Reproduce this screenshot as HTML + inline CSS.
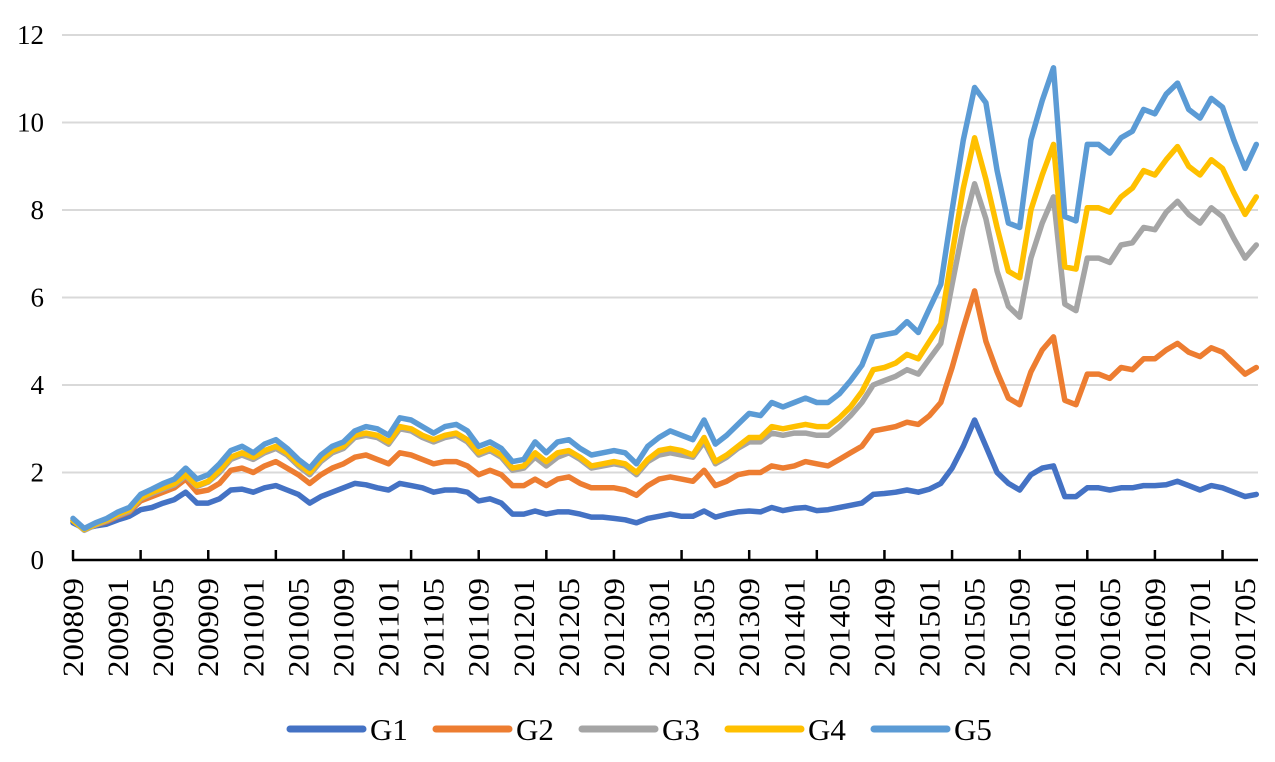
<!DOCTYPE html>
<html><head><meta charset="utf-8">
<style>
html,body{margin:0;padding:0;background:#fff;}
svg{display:block;font-family:"Liberation Serif",serif;}
</style></head>
<body>
<svg id="chart" width="1275" height="762" viewBox="0 0 1275 762" xmlns="http://www.w3.org/2000/svg">
<g id="grid"></g>
<g id="yaxis"></g>
<g id="xaxis"></g>
<g id="series"></g>
<g id="legend"></g>
</svg>
<script>
const yTicks = [0,2,4,6,8,10,12];
const xLabels = ["200809","200901","200905","200909","201001","201005","201009","201101","201105","201109","201201","201205","201209","201301","201305","201309","201401","201405","201409","201501","201505","201509","201601","201605","201609","201701","201705"];
const seriesNames = ["G1","G2","G3","G4","G5"];
const g1 = [0.85,0.72,0.78,0.82,0.92,1.0,1.15,1.2,1.3,1.38,1.55,1.3,1.3,1.4,1.6,1.62,1.55,1.65,1.7,1.6,1.5,1.3,1.45,1.55,1.65,1.75,1.72,1.65,1.6,1.75,1.7,1.65,1.55,1.6,1.6,1.55,1.35,1.4,1.3,1.05,1.05,1.12,1.05,1.1,1.1,1.05,0.98,0.98,0.95,0.92,0.85,0.95,1.0,1.05,1.0,1.0,1.12,0.98,1.05,1.1,1.12,1.1,1.2,1.13,1.18,1.2,1.13,1.15,1.2,1.25,1.3,1.5,1.52,1.55,1.6,1.55,1.62,1.75,2.1,2.6,3.2,2.6,2.0,1.75,1.6,1.95,2.1,2.15,1.45,1.45,1.65,1.65,1.6,1.65,1.65,1.7,1.7,1.72,1.8,1.7,1.6,1.7,1.65,1.55,1.45,1.5];
const g2 = [0.9,0.7,0.8,0.88,1.0,1.1,1.35,1.45,1.55,1.65,1.85,1.55,1.6,1.75,2.05,2.1,2.0,2.15,2.25,2.1,1.95,1.75,1.95,2.1,2.2,2.35,2.4,2.3,2.2,2.45,2.4,2.3,2.2,2.25,2.25,2.15,1.95,2.05,1.95,1.7,1.7,1.85,1.7,1.85,1.9,1.75,1.65,1.65,1.65,1.6,1.48,1.7,1.85,1.9,1.85,1.8,2.05,1.7,1.8,1.95,2.0,2.0,2.15,2.1,2.15,2.25,2.2,2.15,2.3,2.45,2.6,2.95,3.0,3.05,3.15,3.1,3.3,3.6,4.4,5.3,6.15,5.0,4.3,3.7,3.55,4.3,4.8,5.1,3.65,3.55,4.25,4.25,4.15,4.4,4.35,4.6,4.6,4.8,4.95,4.75,4.65,4.85,4.75,4.5,4.25,4.4];
const g3 = [0.9,0.68,0.8,0.9,1.02,1.12,1.4,1.52,1.62,1.72,1.92,1.68,1.78,2.0,2.3,2.4,2.3,2.45,2.55,2.4,2.15,1.95,2.25,2.45,2.55,2.8,2.85,2.8,2.65,3.0,2.95,2.8,2.7,2.8,2.85,2.7,2.4,2.5,2.35,2.05,2.1,2.35,2.15,2.35,2.45,2.3,2.1,2.15,2.2,2.15,1.95,2.25,2.4,2.45,2.4,2.35,2.7,2.2,2.35,2.55,2.7,2.7,2.9,2.85,2.9,2.9,2.85,2.85,3.05,3.3,3.6,4.0,4.1,4.2,4.35,4.25,4.6,4.95,6.3,7.6,8.6,7.8,6.6,5.8,5.55,6.9,7.7,8.3,5.85,5.7,6.9,6.9,6.8,7.2,7.25,7.6,7.55,7.95,8.2,7.9,7.7,8.05,7.85,7.35,6.9,7.2];
const g4 = [0.9,0.7,0.82,0.92,1.05,1.15,1.42,1.55,1.65,1.75,1.95,1.7,1.8,2.05,2.35,2.45,2.35,2.5,2.6,2.45,2.2,2.0,2.3,2.5,2.6,2.85,2.9,2.85,2.7,3.05,3.0,2.85,2.75,2.85,2.9,2.75,2.45,2.55,2.4,2.1,2.15,2.45,2.25,2.45,2.5,2.35,2.15,2.2,2.25,2.2,2.0,2.3,2.5,2.55,2.5,2.4,2.8,2.25,2.4,2.6,2.8,2.8,3.05,3.0,3.05,3.1,3.05,3.05,3.25,3.5,3.85,4.35,4.4,4.5,4.7,4.6,5.0,5.4,7.0,8.5,9.65,8.7,7.6,6.6,6.45,8.0,8.8,9.5,6.7,6.65,8.05,8.05,7.95,8.3,8.5,8.9,8.8,9.15,9.45,9.0,8.8,9.15,8.95,8.4,7.9,8.3];
const g5 = [0.95,0.72,0.85,0.95,1.1,1.2,1.5,1.62,1.75,1.85,2.1,1.85,1.95,2.2,2.5,2.6,2.45,2.65,2.75,2.55,2.3,2.1,2.4,2.6,2.7,2.95,3.05,3.0,2.85,3.25,3.2,3.05,2.9,3.05,3.1,2.95,2.6,2.7,2.55,2.25,2.3,2.7,2.45,2.7,2.75,2.55,2.4,2.45,2.5,2.45,2.2,2.6,2.8,2.95,2.85,2.75,3.2,2.65,2.85,3.1,3.35,3.3,3.6,3.5,3.6,3.7,3.6,3.6,3.8,4.1,4.45,5.1,5.15,5.2,5.45,5.2,5.75,6.3,8.0,9.6,10.8,10.45,8.9,7.7,7.6,9.6,10.5,11.25,7.85,7.75,9.5,9.5,9.3,9.65,9.8,10.3,10.2,10.65,10.9,10.3,10.1,10.55,10.35,9.6,8.95,9.5];
const allSeries = [g1,g2,g3,g4,g5];
const colors = ["#4472C4","#ED7D31","#A5A5A5","#FFC000","#5B9BD5"];

const NS = "http://www.w3.org/2000/svg";
const X0 = 73, XSTEP = 11.27, Y0 = 560, YUNIT = 43.75;
function xs(i){ return X0 + i*XSTEP; }
function ys(v){ return Y0 - v*YUNIT; }
function mk(tag, attrs, parent){ const e=document.createElementNS(NS,tag); for(const k in attrs) e.setAttribute(k,attrs[k]); parent.appendChild(e); return e; }

const grid=document.getElementById('grid'), yaxis=document.getElementById('yaxis'), xaxis=document.getElementById('xaxis'), series=document.getElementById('series'), legend=document.getElementById('legend');

yTicks.forEach(t=>{
  if(t>0){
    const l=mk('line',{x1:62,x2:1258,y1:ys(t),y2:ys(t),stroke:'#d9d9d9','stroke-width':2},grid);
    
    
  }
  const tx=mk('text',{x:44,y:ys(t)+9,'text-anchor':'end','font-size':27,fill:'#000'},yaxis);
  tx.textContent=t;
  
  
});

const axl=mk('line',{x1:72,x2:1258,y1:Y0,y2:Y0,stroke:'#000','stroke-width':2.5},xaxis);


const N=g1.length;
for(let i=0;i<=N;i+=6){
  const tk=mk('line',{x1:xs(i),x2:xs(i),y1:Y0,y2:Y0-10,stroke:'#000','stroke-width':2.5},xaxis);
  
  
}
xLabels.forEach((lab,k)=>{
  const x=xs(k*4)+10, y=578;
  const tx=mk('text',{x:x,y:y,'text-anchor':'end','font-size':30,fill:'#000',textLength:99,lengthAdjust:'spacingAndGlyphs',transform:'rotate(-90 '+x+' '+y+')'},xaxis);
  tx.textContent=lab;
  
  
});

allSeries.forEach((arr,s)=>{
  const pts=arr.map((v,i)=>xs(i).toFixed(1)+','+ys(v).toFixed(1)).join(' ');
  const pl=mk('polyline',{points:pts,fill:'none',stroke:colors[s],'stroke-width':5.5,'stroke-linejoin':'round','stroke-linecap':'round'},series);
  
  
});

seriesNames.forEach((n,s)=>{
  const lx=290+s*146;
  const g=mk('g',{},legend);
  
  
  mk('line',{x1:lx,x2:lx+73,y1:729,y2:729,stroke:colors[s],'stroke-width':7,'stroke-linecap':'round'},g);
  const t=mk('text',{x:lx+80,y:740,'font-size':31,fill:'#000'},g);
  t.textContent=n;
});
</script>
</body></html>
